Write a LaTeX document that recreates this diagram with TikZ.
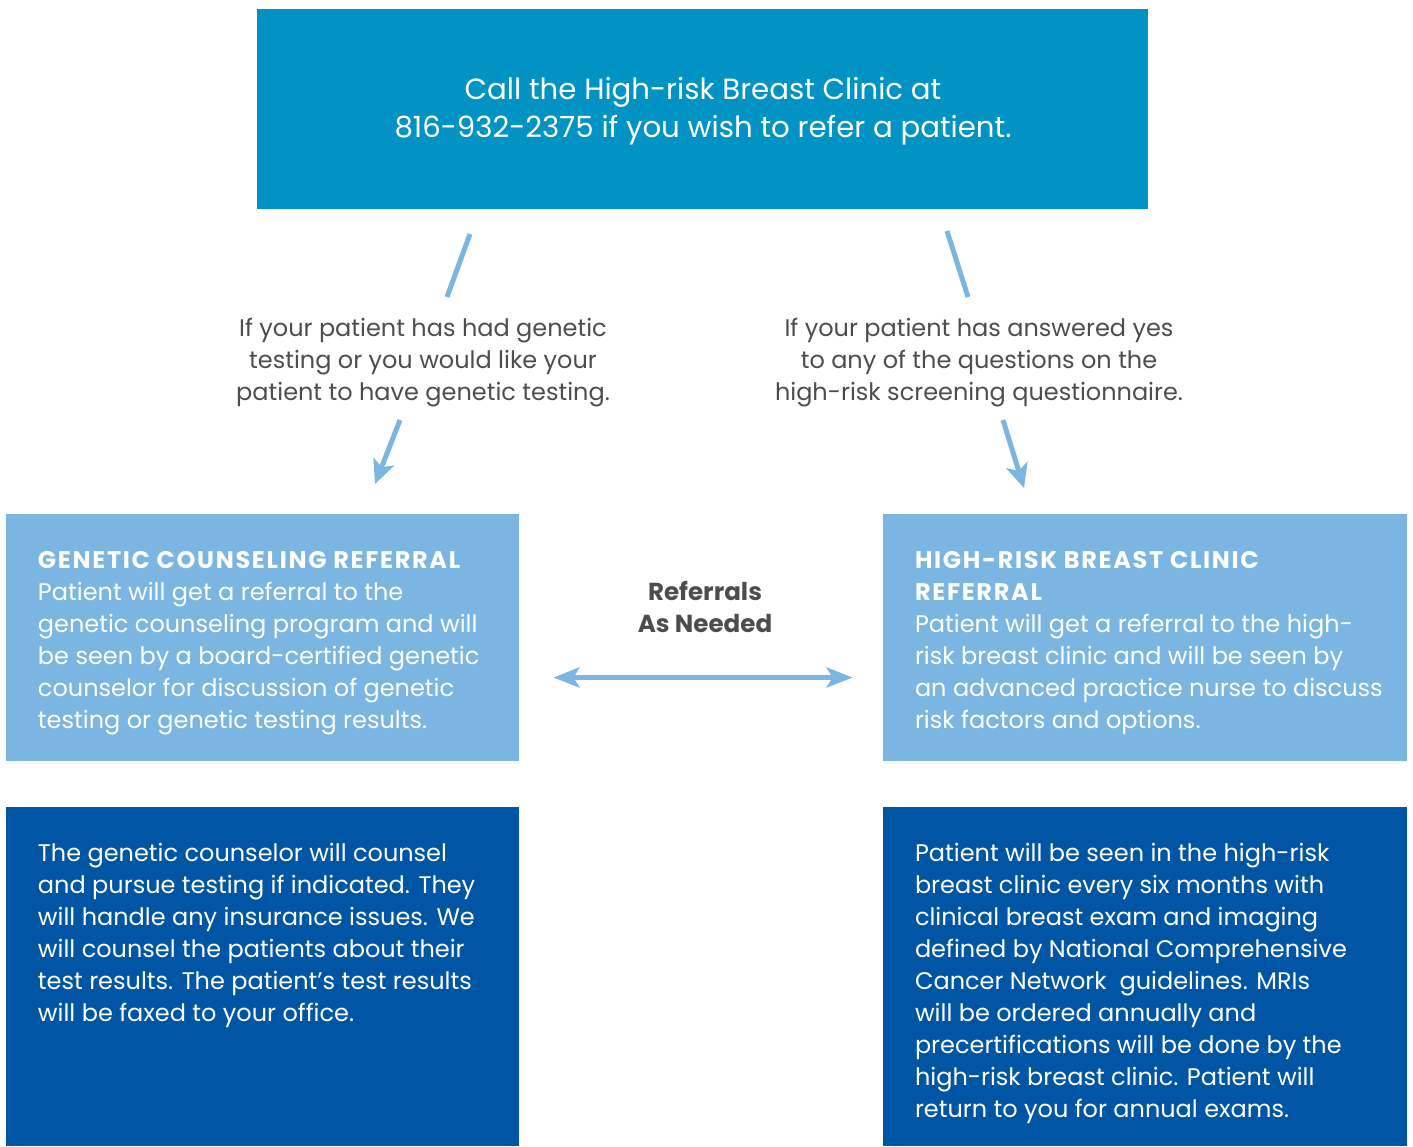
\documentclass[tikz,border=0pt]{standalone}
\usepackage{fontspec}
\setmainfont{Poppins}
\usetikzlibrary{arrows.meta, fit, calc}

\definecolor{topblue}{HTML}{0093C4}
\definecolor{lightblue}{HTML}{7AB6E1}
\definecolor{darkblue}{HTML}{0055A5}
\definecolor{labelgray}{HTML}{4D4D4D}

% bold, spaced-out panel headings
\newcommand{\panelhead}[1]{{\bfseries\addfontfeatures{LetterSpace=7}#1}}

\begin{document}
\begin{tikzpicture}[x=0.5pt, y=-0.5pt,
    panel/.style={inner sep=0pt, draw=none},
    body/.style={inner sep=0pt, align=left, anchor=base west, text=white,
        font=\fontsize{12}{16}\selectfont},
    note/.style={inner sep=0pt, align=center, anchor=base, text=labelgray,
        font=\fontsize{12}{16}\selectfont},
    link/.style={lightblue, line width=2.5pt},
    tip/.style={link, -{Stealth[length=12pt, width=11pt, inset=3pt]}},
    both/.style={link, {Stealth[length=13pt, width=10pt, inset=3pt]}-{Stealth[length=13pt, width=10pt, inset=3pt]}}]

    \useasboundingbox (0,0) rectangle (1413,1146);

    % coloured panels
    \node[panel, fill=topblue, fit={(257,9) (1148,209)}] (call) {};
    \node[panel, fill=lightblue, fit={(6,514) (519,761)}] (gcr) {};
    \node[panel, fill=lightblue, fit={(883,514) (1407,761)}] (hrb) {};
    \node[panel, fill=darkblue, fit={(6,807) (519,1146)}] (gcnext) {};
    \node[panel, fill=darkblue, fit={(883,807) (1407,1146)}] (hrbnext) {};

    % top call-in text (base sits under the last line)
    \node[note, text=white, font=\fontsize{14.6}{19}\selectfont] (calltext) at (703,137.5)
        {Call the High-risk Breast Clinic at\\816-932-2375 if you wish to refer a patient.};

    % the two routes
    \node[note] (genq) at (423,400)
        {If your patient has had genetic\\testing or you would like your\\patient to have genetic testing.};
    \node[note] (riskq) at (979,400)
        {If your patient has answered yes\\to any of the questions on the\\high-risk screening questionnaire.};

    \coordinate (genin) at (470,234);
    \coordinate (genout) at (447,297);
    \coordinate (gentop) at (400,420);
    \coordinate (genend) at (375,484);
    \coordinate (riskin) at (947,231);
    \coordinate (riskout) at (968,297);
    \coordinate (risktop) at (1003,420);
    \coordinate (riskend) at (1024,488);

    \draw[link] (genin) -- (genout);
    \draw[tip] (gentop) -- (genend);
    \draw[link] (riskin) -- (riskout);
    \draw[tip] (risktop) -- (riskend);

    % referral panels
    \node[body] (gcrtext) at ($(gcr.north west)+(32,215)$)
        {\panelhead{GENETIC COUNSELING REFERRAL}\\
        Patient will get a referral to the\\
        genetic counseling program and will\\
        be seen by a board-certified genetic\\
        counselor for discussion of genetic\\
        testing or genetic testing results.};
    \node[body] (hrbtext) at ($(hrb.north west)+(32,215)$)
        {\panelhead{HIGH-RISK BREAST CLINIC}\\
        \panelhead{REFERRAL}\\
        Patient will get a referral to the high-\\
        risk breast clinic and will be seen by\\
        an advanced practice nurse to discuss\\
        risk factors and options.};

    % referrals between the two clinics
    \node[note, font=\bfseries\fontsize{12.3}{16}\selectfont] (between) at (705,632)
        {Referrals\\As Needed};
    \coordinate (bleft) at ($(gcr.east)+(34,40)$);
    \coordinate (bright) at ($(hrb.west)+(-30,40)$);
    \draw[both] (bleft) -- (bright);

    % follow-up panels
    \node[body] (gcnexttext) at ($(gcnext.north west)+(32,215)$)
        {The genetic counselor will counsel\\
        and pursue testing if indicated. They\\
        will handle any insurance issues. We\\
        will counsel the patients about their\\
        test results. The patient’s test results\\
        will be faxed to your office.};
    \node[body] (hrbnexttext) at ($(hrbnext.north west)+(32,311)$)
        {Patient will be seen in the high-risk\\
        breast clinic every six months with\\
        clinical breast exam and imaging\\
        defined by National Comprehensive\\
        Cancer Network\ \ guidelines. MRIs\\
        will be ordered annually and\\
        precertifications will be done by the\\
        high-risk breast clinic. Patient will\\
        return to you for annual exams.};
\end{tikzpicture}
\end{document}
